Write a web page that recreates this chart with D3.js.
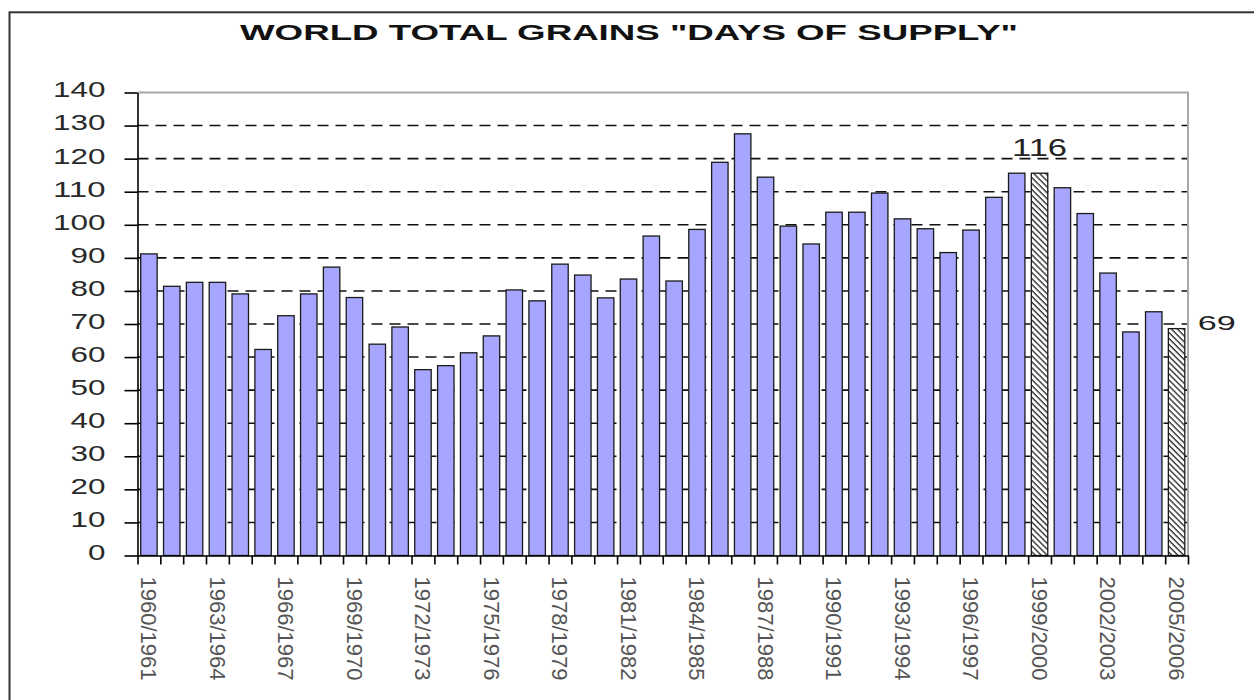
<!DOCTYPE html>
<html>
<head>
<meta charset="utf-8">
<script src="https://cdn.jsdelivr.net/npm/d3@7"></script>
<style>
  body { margin: 0; background: #fff; }
  svg { display: block; font-family: "Liberation Sans", Arial, sans-serif; }
</style>
</head>
<body>
<svg id="chart" width="1254" height="700"></svg>
<script>
// crop years
var seasons = [
  "1960/1961","1961/1962","1962/1963","1963/1964","1964/1965","1965/1966",
  "1966/1967","1967/1968","1968/1969","1969/1970","1970/1971","1971/1972",
  "1972/1973","1973/1974","1974/1975","1975/1976","1976/1977","1977/1978",
  "1978/1979","1979/1980","1980/1981","1981/1982","1982/1983","1983/1984",
  "1984/1985","1985/1986","1986/1987","1987/1988","1988/1989","1989/1990",
  "1990/1991","1991/1992","1992/1993","1993/1994","1994/1995","1995/1996",
  "1996/1997","1997/1998","1998/1999","1999/2000","2000/2001","2001/2002",
  "2002/2003","2003/2004","2004/2005","2005/2006"
]

// days of supply
var daysOfSupply = [
  91.2, 81.4, 82.6, 82.6, 79.1, 62.3,
  72.5, 79.1, 87.2, 78.0, 63.9, 69.1,
  56.2, 57.4, 61.3, 66.4, 80.3, 77.0,
  88.1, 84.8, 77.9, 83.6, 96.6, 83.0,
  98.6, 118.9, 127.5, 114.4, 99.6, 94.2,
  103.8, 103.8, 109.6, 101.8, 98.8, 91.6,
  98.4, 108.3, 115.6, 115.6, 111.2, 103.4,
  85.4, 67.6, 73.7, 68.6
]

var shownLabels = [
  "1960/1961","1963/1964","1966/1967","1969/1970","1972/1973","1975/1976",
  "1978/1979","1981/1982","1984/1985","1987/1988","1990/1991","1993/1994",
  "1996/1997","1999/2000","2002/2003","2005/2006"
]

var yTicks = [0, 10, 20, 30, 40, 50, 60, 70, 80, 90, 100, 110, 120, 130, 140]

var hatchedSeasons = ["1999/2000", "2005/2006"]
var calloutSeasons = ["1999/2000", "2005/2006"]
var calloutTexts = ["116", "69"]

var data = seasons.map(function(s, i) { return { season: s, value: daysOfSupply[i] } })

var svg = d3.select('#chart')

var plotLeft = 137.5, plotRight = 1188, plotTop = 92.5, plotBottom = 555.5

var x = d3.scaleBand()
  .domain(seasons)
  .range([plotLeft, plotRight])
  .paddingInner(0.28)
  .paddingOuter(0.14)

var xEdge = d3.scaleLinear()
  .domain([0, seasons.length])
  .range([plotLeft, plotRight])

var y = d3.scaleLinear()
  .domain([0, 140])
  .range([plotBottom, plotTop])

// hatch for the marked bars
var pat = svg.append('defs').append('pattern')
  .attr('id', 'hatch')
  .attr('patternUnits', 'userSpaceOnUse')
  .attr('width', 4.2).attr('height', 4.2)
  .attr('patternTransform', 'rotate(45)')
pat.append('rect').attr('width', 4.2).attr('height', 4.2).attr('fill', '#fff')
pat.append('rect').attr('width', 4.2).attr('height', 1.4).attr('fill', '#333')

// outer frame
svg.append('rect')
  .attr('x', 9.5).attr('y', 12.3)
  .attr('width', 1260).attr('height', 720)
  .attr('fill', 'none').attr('stroke', '#333').attr('stroke-width', 2)

svg.append('text')
  .attr('x', 240).attr('y', 40)
  .attr('font-size', 22).attr('font-weight', 'bold')
  .attr('textLength', 778).attr('lengthAdjust', 'spacingAndGlyphs')
  .attr('fill', '#111')
  .text('WORLD TOTAL GRAINS "DAYS OF SUPPLY"')

// plot frame (gray top + right)
svg.append('path')
  .attr('d', 'M' + plotLeft + ',' + plotTop + 'H' + plotRight + 'V' + plotBottom)
  .attr('fill', 'none').attr('stroke', '#a8a8a8').attr('stroke-width', 2)

// dashed grid
svg.append('g').attr('class', 'grid')
  .selectAll('line')
  .data(yTicks.filter(function(t) { return t > 0 && t < 140 }))
  .enter().append('line')
  .attr('x1', plotLeft).attr('x2', plotRight - 1)
  .attr('y1', function(d) { return y(d) })
  .attr('y2', function(d) { return y(d) })
  .attr('stroke', '#111').attr('stroke-width', 1.6)
  .attr('stroke-dasharray', '11,7')

// bars
svg.append('g').attr('class', 'bars')
  .selectAll('rect')
  .data(data)
  .enter().append('rect')
  .attr('x', function(d) { return x(d.season) })
  .attr('y', function(d) { return y(d.value) })
  .attr('width', x.bandwidth())
  .attr('height', function(d) { return y(0) - y(d.value) })
  .attr('fill', function(d) {
    return hatchedSeasons.indexOf(d.season) > -1 ? 'url(#hatch)' : '#a6a6ff'
  })
  .attr('stroke', '#1a1a1a').attr('stroke-width', 1.3)

// y axis
var yAxis = svg.append('g')
  .attr('transform', 'translate(' + plotLeft + ',0)')
  .call(d3.axisLeft(y).tickValues(yTicks).tickSize(13).tickSizeOuter(0).tickPadding(19))
yAxis.select('.domain').attr('stroke', '#000').attr('stroke-width', 1.6)
yAxis.selectAll('.tick line').attr('stroke', '#000').attr('stroke-width', 1.6)
yAxis.selectAll('.tick text')
  .attr('font-size', 22).attr('fill', '#2a2a2a')
  .attr('dy', '0.2em')
  .attr('font-family', '"Liberation Sans", Arial, sans-serif')
  .attr('textLength', function(d) { return String(d).length * 17.5 })
  .attr('lengthAdjust', 'spacingAndGlyphs')

// x axis line + ticks on band edges
var xTicks = svg.append('g')
  .attr('transform', 'translate(0,' + plotBottom + ')')
  .call(d3.axisBottom(xEdge).tickValues(d3.range(0, seasons.length + 1)).tickSize(9).tickSizeOuter(0).tickFormat(''))
xTicks.select('.domain').attr('stroke', '#000').attr('stroke-width', 1.6)
xTicks.selectAll('.tick line').attr('stroke', '#000').attr('stroke-width', 1.6)

// rotated season labels
var xLabels = svg.append('g')
  .attr('transform', 'translate(0,' + plotBottom + ')')
  .call(d3.axisBottom(x).tickValues(shownLabels).tickSize(0))
xLabels.select('.domain').remove()
xLabels.selectAll('.tick text')
  .attr('transform', 'rotate(90)')
  .attr('x', 21).attr('y', 0).attr('dy', '0.35em')
  .style('text-anchor', 'start')
  .attr('font-size', 22).attr('fill', '#555')
  .attr('font-family', '"Liberation Sans", Arial, sans-serif')

// callouts
var c116 = data[seasons.indexOf(calloutSeasons[0])]
svg.append('text')
  .attr('x', x(c116.season) + x.bandwidth() / 2)
  .attr('y', y(c116.value) - 17)
  .attr('text-anchor', 'middle')
  .attr('font-size', 23).attr('fill', '#222')
  .attr('textLength', 55).attr('lengthAdjust', 'spacingAndGlyphs')
  .text(calloutTexts[0])

var c69 = data[seasons.indexOf(calloutSeasons[1])]
svg.append('text')
  .attr('x', x(c69.season) + x.bandwidth() + 13)
  .attr('y', y(c69.value) + 1.5)
  .attr('font-size', 21).attr('fill', '#222')
  .attr('textLength', 38).attr('lengthAdjust', 'spacingAndGlyphs')
  .text(calloutTexts[1])
</script>
</body>
</html>
